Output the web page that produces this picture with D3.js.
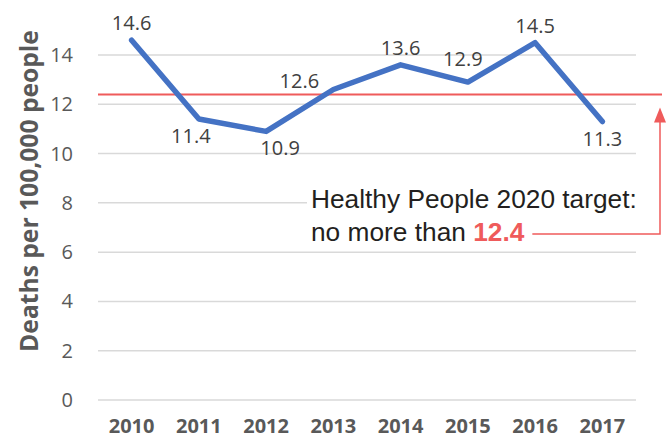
<!DOCTYPE html>
<html><head><meta charset="utf-8">
<script src="https://cdn.jsdelivr.net/npm/d3@7"></script>
<style>body{margin:0;background:#fff}svg{display:block}</style>
</head><body>
<script>
const years = ["2010","2011","2012","2013","2014","2015","2016","2017"];
const deaths = [14.6, 11.4, 10.9, 12.6, 13.6, 12.9, 14.5, 11.3];
const labelSide = ["above","below","below","above","above","above","above","below"];
const yTicks = [0,2,4,6,8,10,12,14];
const target = 12.4;
const yTitle = "Deaths per 100,000 people";
const noteLine1 = "Healthy People 2020 target:";
const noteLine2 = "no more than ";

const W = 666, H = 440;
const svg = d3.select("body").append("svg").attr("width", W).attr("height", H);

const x = d3.scalePoint().domain(years).range([98, 636]).padding(0.5);
const y = d3.scaleLinear().domain([0, 14]).range([400, 55]);

// gridlines
svg.append("g").selectAll("line").data(yTicks).join("line")
  .attr("x1", 98).attr("x2", 636)
  .attr("y1", d => y(d)).attr("y2", d => y(d))
  .attr("stroke", "#d9d9d9").attr("stroke-width", 1.5);

// y tick labels
svg.append("g").selectAll("text").data(yTicks).join("text")
  .attr("x", 73).attr("y", d => y(d) + 7)
  .attr("text-anchor", "end")
  .attr("font-family", "Open Sans").attr("font-size", 20).attr("fill", "#595959")
  .text(d => d);

// x labels
svg.append("g").selectAll("text").data(years).join("text")
  .attr("x", d => x(d)).attr("y", 433)
  .attr("text-anchor", "middle")
  .attr("font-family", "Open Sans").attr("font-weight", "bold").attr("font-size", 20).attr("fill", "#595959")
  .text(d => d);

// y title
const yt = svg.append("text")
  .attr("transform", `translate(38,${191}) rotate(-90)`)
  .attr("text-anchor", "middle")
  .attr("font-family", "Open Sans").attr("font-weight", "bold").attr("font-size", 20).attr("fill", "#595959")
  .text(yTitle);
{ const w = yt.node().getComputedTextLength(); yt.attr("font-size", 20 * 322 / w); }

// target line
const red = "#EF5B5B";
svg.append("line").attr("x1", 98).attr("x2", 662)
  .attr("y1", y(target)).attr("y2", y(target))
  .attr("stroke", red).attr("stroke-width", 2);

// annotation background
svg.append("rect").attr("x", 307).attr("y", 183).attr("width", 332).attr("height", 64).attr("fill", "#fff");

const t1 = svg.append("text").attr("x", 311).attr("y", 208)
  .attr("font-family", "Liberation Sans").attr("font-size", 26).attr("fill", "#231f20")
  .text(noteLine1);
{ const w = t1.node().getComputedTextLength(); t1.attr("font-size", 26 * 326 / w); }
const fs = +t1.attr("font-size");
const t2 = svg.append("text").attr("x", 311).attr("y", 241)
  .attr("font-family", "Liberation Sans").attr("font-size", fs).attr("fill", "#231f20");
t2.append("tspan").text(noteLine2);
t2.append("tspan").attr("font-weight", "bold").attr("fill", red).text(String(target));
const t2end = 311 + t2.node().getComputedTextLength();

// connector with arrow
const yConn = 234, xConn = 660;
svg.append("path")
  .attr("d", `M${t2end + 8},${yConn} H${xConn} V${y(target) + 24}`)
  .attr("fill", "none").attr("stroke", red).attr("stroke-width", 1.5);
svg.append("path")
  .attr("d", `M${xConn},${y(target) + 13} L${xConn + 6},${y(target) + 28} L${xConn - 6},${y(target) + 28} Z`)
  .attr("fill", red);

// data line
const pts = years.map((yr, i) => ({yr, v: deaths[i], side: labelSide[i]}));
svg.append("path").datum(pts)
  .attr("d", d3.line().x(d => x(d.yr)).y(d => y(d.v)))
  .attr("fill", "none").attr("stroke", "#4472C4").attr("stroke-width", 5.5)
  .attr("stroke-linecap", "round").attr("stroke-linejoin", "round");

// data labels
const nudge = {"2011": -8, "2012": 14, "2013": -34, "2015": -5};
const nudgeY = {"2013": 8, "2015": -6};
svg.append("g").selectAll("text").data(pts).join("text")
  .attr("x", d => x(d.yr) + (nudge[d.yr] || 0))
  .attr("y", d => y(d.v) + (d.side === "above" ? -10 : 24) + (nudgeY[d.yr] || 0))
  .attr("text-anchor", "middle")
  .attr("font-family", "Open Sans").attr("font-size", 20).attr("fill", "#404040")
  .text(d => d.v.toFixed(1));
</script>
</body></html>
